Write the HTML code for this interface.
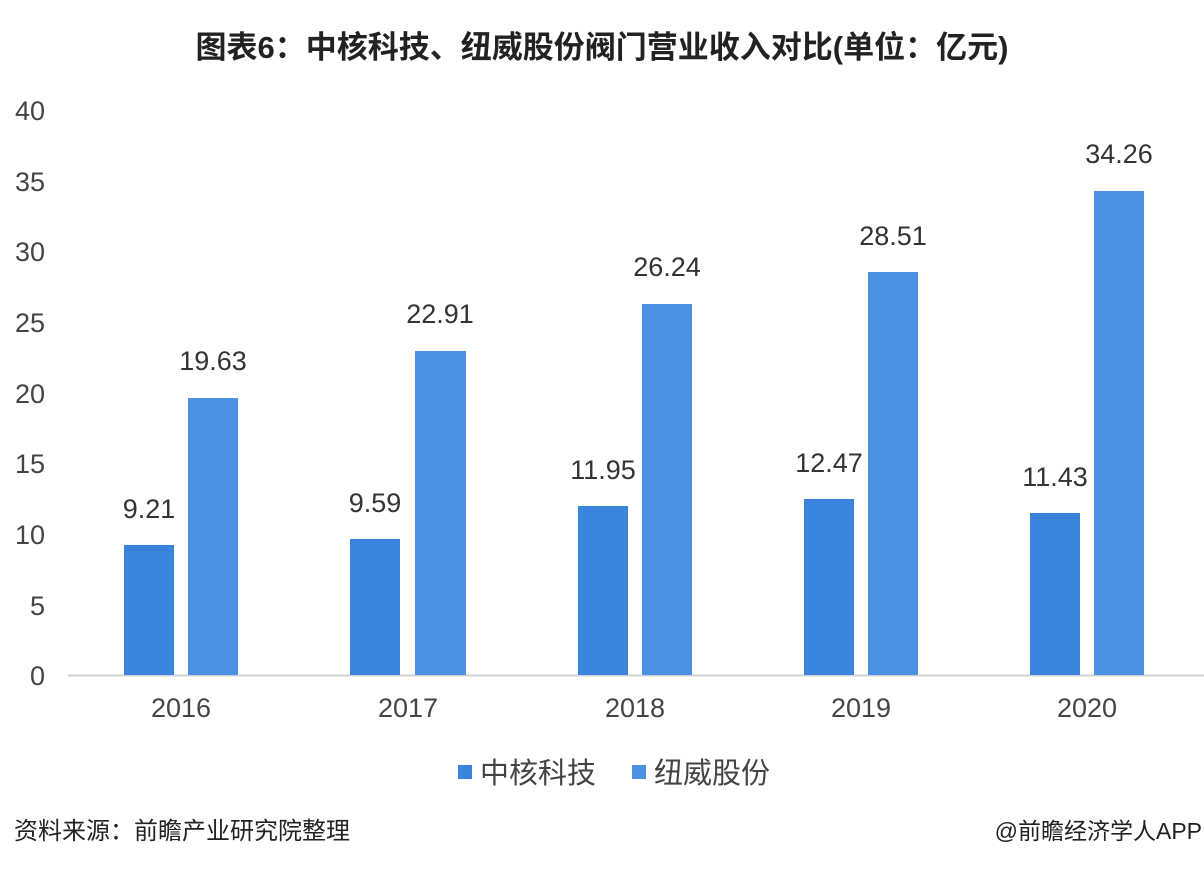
<!DOCTYPE html>
<html><head><meta charset="utf-8"><style>
body{margin:0;width:1204px;height:872px;background:#fff;overflow:hidden;position:relative;font-family:"Liberation Sans","Noto Sans CJK SC",sans-serif;}
.t{position:absolute;white-space:nowrap;color:#333;}
</style></head><body>
<div class="t" style="left:0;width:1204px;text-align:center;top:22px;font-size:31px;font-weight:bold;color:#222;">图表6：中核科技、纽威股份阀门营业收入对比(单位：亿元)</div>
<svg width="1204" height="872" style="position:absolute;left:0;top:0" font-family="Liberation Sans, Noto Sans CJK SC, sans-serif">
<g font-size="27" fill="#444" text-anchor="end">
<text x="45" y="120">40</text><text x="45" y="191">35</text><text x="45" y="261">30</text><text x="45" y="332">25</text><text x="45" y="403">20</text><text x="45" y="473">15</text><text x="45" y="544">10</text><text x="45" y="615">5</text><text x="45" y="685">0</text>
</g>
<line x1="68" y1="675.5" x2="1204" y2="675.5" stroke="#d0d0d0" stroke-width="2"/>
<g fill="#3a84de">
<rect x="124" y="545" width="50" height="130"/><rect x="350" y="539" width="50" height="136"/><rect x="578" y="506" width="50" height="169"/><rect x="804" y="499" width="50" height="176"/><rect x="1030" y="513" width="50" height="162"/>
</g>
<g fill="#4b92e4">
<rect x="188" y="398" width="50" height="277"/><rect x="415" y="351" width="51" height="324"/><rect x="642" y="304" width="50" height="371"/><rect x="868" y="272" width="50" height="403"/><rect x="1094" y="191" width="50" height="484"/>
</g>
<g font-size="27" fill="#333" text-anchor="middle">
<text x="149" y="518">9.21</text><text x="213" y="370">19.63</text>
<text x="375" y="512">9.59</text><text x="440" y="323">22.91</text>
<text x="603" y="479">11.95</text><text x="667" y="276">26.24</text>
<text x="829" y="472">12.47</text><text x="893" y="245">28.51</text>
<text x="1055" y="486">11.43</text><text x="1119" y="163">34.26</text>
</g>
<g font-size="27" fill="#444" text-anchor="middle">
<text x="181" y="717">2016</text><text x="408" y="717">2017</text><text x="635" y="717">2018</text><text x="861" y="717">2019</text><text x="1087" y="717">2020</text>
</g>
<rect x="458" y="765" width="14" height="14" fill="#3a84de"/>
<text x="480" y="783" font-size="29" fill="#444">中核科技</text>
<rect x="632" y="765" width="14" height="14" fill="#4b92e4"/>
<text x="654" y="783" font-size="29" fill="#444">纽威股份</text>
<text x="14" y="839" font-size="24" fill="#222">资料来源：前瞻产业研究院整理</text>
<text x="1202" y="839" font-size="23" fill="#222" text-anchor="end">@前瞻经济学人APP</text>
</svg>
</body></html>
